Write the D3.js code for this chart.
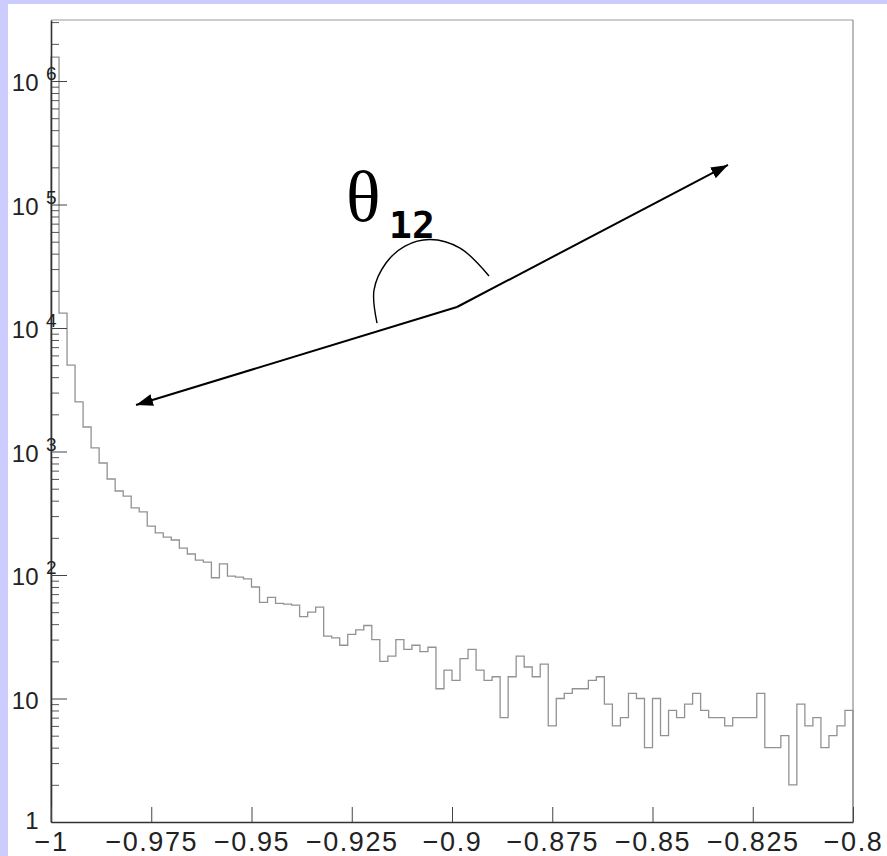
<!DOCTYPE html>
<html>
<head>
<meta charset="utf-8">
<script src="https://cdn.jsdelivr.net/npm/d3@7"></script>
<style>
  html, body { margin: 0; padding: 0; background: #ccccff; }
  svg { display: block; }
</style>
</head>
<body>
<svg id="chart" width="887" height="856"></svg>
<script>
// Histogram of cos(theta_12): 100 bins from -1 to -0.8, log-scaled counts
const binRange = [-1, -0.8];
const counts = [
  1560000, 13200, 5000, 2520, 1580, 1070, 807, 599, 479, 436,
  349, 324, 249, 219, 203, 192, 165, 148, 132, 127,
  95, 123, 98, 96, 93, 80, 60, 66, 59, 58,
  57, 46, 50, 55, 32, 31, 27, 33, 36, 39,
  30, 20, 22, 30, 25, 27, 24, 26, 12, 17,
  14, 21, 25, 17, 14, 15, 7, 15, 22, 18,
  15, 19, 6, 10, 11, 12, 12, 14, 15, 9,
  6, 7, 11, 10, 4, 10, 5, 8, 7, 9,
  11, 8, 7, 7, 6, 7, 7, 7, 11, 4,
  4, 5, 2, 9, 6, 7, 4, 5, 6, 8
];
const yDomain = [1, 3.12e6];

const xTickValues = [-1, -0.975, -0.95, -0.925, -0.9, -0.875, -0.85, -0.825, -0.8];
const xTickLabels = ["\u22121", "\u22120.975", "\u22120.95", "\u22120.925", "\u22120.9",
                     "\u22120.875", "\u22120.85", "\u22120.825", "\u22120.8"];
const yTickValues = [1, 10, 100, 1e3, 1e4, 1e5, 1e6];
const yTickBase = ["1", "10", "10", "10", "10", "10", "10"];
const yTickExp = ["", "", "2", "3", "4", "5", "6"];

// Angle sketch, in data coordinates (cos value, count)
const arrowVertex = [-0.89875, 14800];
const arrowTips = [[-0.83117, 209000], [-0.9788, 2380]];
const arcPoints = [
  [-0.9187, 10970], [-0.91945, 20300], [-0.91646, 33600], [-0.91172, 46100],
  [-0.90548, 52100], [-0.89800, 44400], [-0.89077, 26400]
];
const thetaAnchor = [-0.92643, 73500];
const subAnchor = [-0.91571, 53500];

const svg = d3.select("#chart");
const W = 887, H = 856;
const plot = { left: 51, right: 853, top: 20, bottom: 822 };

svg.append("rect").attr("width", W).attr("height", H).attr("fill", "#ccccff");
svg.append("rect").attr("x", 8).attr("y", 4).attr("width", W - 8).attr("height", H - 4).attr("fill", "#ffffff");

const x = d3.scaleLinear().domain(binRange).range([plot.left, plot.right]);
const y = d3.scaleLog().domain(yDomain).range([plot.bottom, plot.top]);

// frame
svg.append("line").attr("x1", plot.left).attr("x2", plot.right)
  .attr("y1", plot.top).attr("y2", plot.top)
  .attr("stroke", "#bbbbbb").attr("stroke-width", 1.5);
svg.append("line").attr("x1", plot.right).attr("x2", plot.right)
  .attr("y1", plot.top).attr("y2", plot.bottom)
  .attr("stroke", "#777777").attr("stroke-width", 1);

// histogram outline
const nBins = counts.length;
const binW = (binRange[1] - binRange[0]) / nBins;
const pts = [[binRange[0], yDomain[0]]];
counts.forEach((c, i) => pts.push([binRange[0] + i * binW, c]));
pts.push([binRange[1], counts[nBins - 1]]);
pts.push([binRange[1], yDomain[0]]);
svg.append("path")
  .datum(pts)
  .attr("fill", "none")
  .attr("stroke", "#929292")
  .attr("stroke-width", 1.3)
  .attr("d", d3.line().x(d => x(d[0])).y(d => y(d[1])).curve(d3.curveStepAfter));

// y axis: major and minor ticks
const minorValues = [];
for (let k = 0; k <= 6; k++) {
  for (let m = 2; m <= 9; m++) {
    const v = m * Math.pow(10, k);
    if (v <= yDomain[1]) minorValues.push(v);
  }
}
const yMinor = svg.append("g").attr("transform", `translate(${plot.left},0)`)
  .call(d3.axisLeft(y).tickValues(minorValues).tickSize(-8).tickSizeOuter(0).tickFormat(""));
yMinor.select(".domain").remove();
yMinor.selectAll("line").attr("stroke", "#555").attr("stroke-width", 1);

const yAxis = svg.append("g").attr("transform", `translate(${plot.left},0)`)
  .call(d3.axisLeft(y).tickValues(yTickValues).tickSize(-16).tickSizeOuter(0).tickFormat(""));
yAxis.select(".domain").attr("stroke", "#333").attr("stroke-width", 1.6);
yAxis.selectAll("line").attr("stroke", "#444").attr("stroke-width", 1);

// y tick labels: 10 with superscript exponent
const yLab = svg.append("g").attr("font-family", "'Liberation Sans', Arial, Helvetica, sans-serif")
  .attr("fill", "#222");
yTickValues.forEach((v, i) => {
  const ty = y(v);
  yLab.append("text")
    .attr("x", 38.5).attr("y", ty + (i === 0 ? 7 : 10))
    .attr("text-anchor", "end").attr("font-size", 24)
    .text(yTickBase[i]);
  if (yTickExp[i]) {
    yLab.append("text")
      .attr("x", 46).attr("y", ty - 1)
      .attr("font-size", 19)
      .text(yTickExp[i]);
  }
});

// x axis
const xAxis = svg.append("g").attr("transform", `translate(0,${plot.bottom})`)
  .call(d3.axisBottom(x).tickValues(xTickValues)
    .tickFormat((d, i) => xTickLabels[i])
    .tickSize(-15).tickSizeOuter(0).tickPadding(10));
xAxis.select(".domain").attr("stroke", "#333").attr("stroke-width", 1.6);
xAxis.selectAll("line").attr("stroke", "#444").attr("stroke-width", 1);
xAxis.selectAll("text")
  .attr("font-family", "'Liberation Sans', Arial, Helvetica, sans-serif")
  .attr("font-size", 27)
  .attr("letter-spacing", "1.5px")
  .attr("fill", "#222");

// angle sketch
const defs = svg.append("defs");
defs.append("marker")
  .attr("id", "head")
  .attr("markerUnits", "userSpaceOnUse")
  .attr("markerWidth", 18).attr("markerHeight", 14)
  .attr("refX", 17).attr("refY", 6)
  .attr("orient", "auto")
  .append("path").attr("d", "M0,0 L17,6 L0,12 Z").attr("fill", "#000");

arrowTips.forEach(t => {
  svg.append("line")
    .attr("x1", x(arrowVertex[0])).attr("y1", y(arrowVertex[1]))
    .attr("x2", x(t[0])).attr("y2", y(t[1]))
    .attr("stroke", "#000").attr("stroke-width", 2)
    .attr("marker-end", "url(#head)");
});

svg.append("path")
  .datum(arcPoints)
  .attr("fill", "none").attr("stroke", "#000").attr("stroke-width", 1.4)
  .attr("d", d3.line().x(d => x(d[0])).y(d => y(d[1])).curve(d3.curveCatmullRom));

svg.append("text")
  .attr("x", x(thetaAnchor[0])).attr("y", y(thetaAnchor[1]))
  .attr("font-family", "'Liberation Serif', 'Times New Roman', serif")
  .attr("font-size", 72).attr("fill", "#000")
  .text("\u03b8");
svg.append("text")
  .attr("x", x(subAnchor[0])).attr("y", y(subAnchor[1]))
  .attr("font-family", "'DejaVu Sans Mono', monospace")
  .attr("font-weight", "bold")
  .attr("font-size", 38).attr("fill", "#000")
  .text("12");
</script>
</body>
</html>
